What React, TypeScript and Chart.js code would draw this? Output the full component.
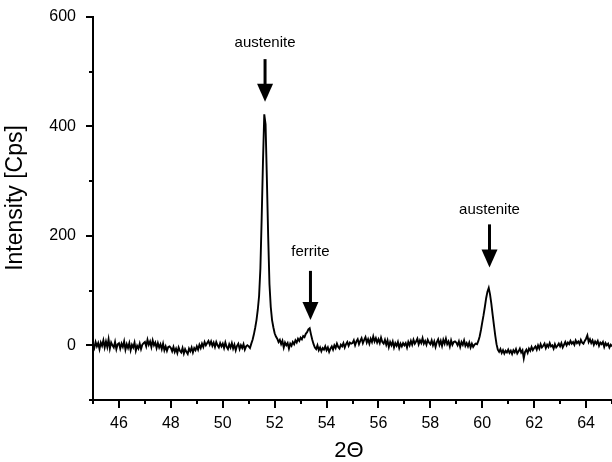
import { useEffect, useRef } from "react";
import { Chart, registerables } from "chart.js";

Chart.register(...registerables);

const FONT = "'Liberation Sans', Arial, Helvetica, sans-serif";

// 2Θ sampling: start and step of the scan
const START = 45;
const STEP = 0.05;

// Intensity [Cps], one row per degree (x.00 ... x.95)
const i45 = [2, -5, 6, -2, 4, -7, 5, -1, 9, -4, 7, -3, 11, -6, 5, 0, -4, 6, -7, 2];
const i46 = [4, -6, 3, -3, 7, -8, 2, -5, 4, -9, 1, -4, 5, -10, -1, -6, 3, -7, 1, 4];
const i47 = [6, -2, 10, 1, 7, -3, 9, 0, 5, -5, 4, -4, 2, -7, 3, -9, -2, -10, -3, -2];
const i48 = [-5, -11, -3, -12, -6, -14, -4, -10, -13, -5, -15, -7, -12, -16, -6, -11, -4, -13, -5, -9];
const i49 = [-2, -8, 1, -5, 3, -3, 6, 0, 4, 8, 1, 7, -1, 5, -3, 6, 0, -4, 4, -2];
const i50 = [3, -5, 5, -3, -7, 2, -4, 4, -6, 1, -9, -1, 3, -7, 0, -5, 2, -8, -2, 0];
const i51 = [-2, -5, 3, 10, 20, 32, 46, 65, 90, 140, 232, 335, 422, 404, 305, 200, 112, 70, 46, 33];
const i52 = [22, 16, 12, 6, 10, 2, 8, -4, 5, 0, 4, -6, 3, -1, 6, 2, 9, 5, 12, 8];
const i53 = [14, 11, 17, 15, 21, 24, 29, 31, 20, 10, 2, -4, -7, 0, -9, -4, -11, -5, -8, -2];
const i54 = [-9, -4, -12, -6, -2, -8, 0, -5, 3, -3, -6, 1, -2, 4, -4, 2, 6, -1, 5, 3];
const i55 = [4, 9, 0, 7, 11, 2, 8, 13, 4, 10, 15, 5, 11, 3, 12, 6, 16, 7, 13, 5];
const i56 = [11, 4, 14, 6, 3, 10, 1, 9, -3, 6, 0, 7, -4, 4, -1, 6, -5, 3, -2, 4];
const i57 = [0, 4, -4, 6, 0, 8, 1, 10, 3, 7, 12, 2, 9, 4, 13, 3, 8, 1, 10, 5];
const i58 = [2, 9, 0, 7, -3, 6, 11, 1, 8, -1, 10, 3, 12, 2, 7, -2, 9, 1, 6, 7];
const i59 = [5, 0, 7, -3, 6, 1, 9, -1, 4, -2, 5, -4, 3, -3, 1, 3, 2, 8, 16, 28];
const i60 = [42, 55, 70, 86, 98, 105, 93, 76, 56, 37, 18, 2, -8, -12, -7, -14, -9, -15, -10, -13];
const i61 = [-8, -14, -10, -16, -9, -13, -7, -15, -11, -6, -13, -9, -24, -12, -8, -14, -6, -10, -3, -9];
const i62 = [-5, -2, -8, 0, -6, 2, -4, -1, 3, -5, 1, -3, 4, -2, 0, -6, 2, -4, -1, 3];
const i63 = [-2, 4, -4, 1, 6, 0, 5, 2, 8, 3, 6, 1, 9, 4, 7, 2, 10, 5, 3, 8];
const i64 = [12, 18, 6, 11, 4, 9, 1, 7, 3, 8, -1, 5, 2, 6, -3, 4, 0, 3, -4, 1];
const i65 = [-2];

const intensity = [
  ...i45, ...i46, ...i47, ...i48, ...i49, ...i50, ...i51, ...i52, ...i53, ...i54,
  ...i55, ...i56, ...i57, ...i58, ...i59, ...i60, ...i61, ...i62, ...i63, ...i64, ...i65,
];

// Axis ticks
const xMajorTicks = [46, 48, 50, 52, 54, 56, 58, 60, 62, 64];
const yMajorTicks = [0, 200, 400, 600];

// Peak annotations (data coordinates)
const peakLabels = ["austenite", "ferrite", "austenite"];
const peakX = [51.63, 53.38, 60.28];
const peakLabelY = [552, 170, 247];
const peakArrowTop = [523, 136, 221];
const peakArrowTip = [445, 46, 142];

const noScalePadding = (s: any) => {
  s.paddingTop = 0;
  s.paddingBottom = 0;
  s.paddingLeft = 0;
  s.paddingRight = 0;
};

const overlayPlugin = {
  id: "overlay",
  afterDraw(chart: any) {
    const { ctx, chartArea, scales } = chart;
    const xs = scales.x;
    const ys = scales.y;
    ctx.save();
    ctx.strokeStyle = "#000";
    ctx.fillStyle = "#000";
    ctx.lineWidth = 2;
    // x ticks
    xs.ticks.forEach((t: any) => {
      const px = Math.round(xs.getPixelForValue(t.value));
      const len = xMajorTicks.includes(t.value) ? 8 : 4;
      ctx.beginPath();
      ctx.moveTo(px, chartArea.bottom);
      ctx.lineTo(px, chartArea.bottom + len);
      ctx.stroke();
    });
    // y ticks
    ys.ticks.forEach((t: any) => {
      const py = Math.round(ys.getPixelForValue(t.value));
      const len = yMajorTicks.includes(t.value) ? 7 : 4;
      ctx.beginPath();
      ctx.moveTo(chartArea.left - len, py);
      ctx.lineTo(chartArea.left, py);
      ctx.stroke();
    });
    // axis titles
    ctx.font = `22px ${FONT}`;
    ctx.textAlign = "center";
    ctx.textBaseline = "middle";
    ctx.fillText("2Θ", 349, 451);
    ctx.save();
    ctx.translate(16, 198);
    ctx.rotate(-Math.PI / 2);
    ctx.font = `23px ${FONT}`;
    ctx.fillText("Intensity [Cps]", 0, 0);
    ctx.restore();
    // annotations
    ctx.font = `15px ${FONT}`;
    peakLabels.forEach((label, i) => {
      const px = xs.getPixelForValue(peakX[i]);
      const ly = ys.getPixelForValue(peakLabelY[i]);
      const top = ys.getPixelForValue(peakArrowTop[i]);
      const tip = ys.getPixelForValue(peakArrowTip[i]);
      ctx.fillText(label, px, ly);
      const headH = 18;
      const headW = 8;
      ctx.lineWidth = 3;
      ctx.beginPath();
      ctx.moveTo(px, top);
      ctx.lineTo(px, tip - headH + 1);
      ctx.stroke();
      ctx.beginPath();
      ctx.moveTo(px - headW, tip - headH);
      ctx.lineTo(px + headW, tip - headH);
      ctx.lineTo(px, tip);
      ctx.closePath();
      ctx.fill();
    });
    ctx.restore();
  },
};

export default function App() {
  const ref = useRef<HTMLCanvasElement>(null);
  useEffect(() => {
    document.body.style.margin = "0";
    const points = intensity.map((y, i) => ({ x: +(START + i * STEP).toFixed(2), y }));
    const chart = new Chart(ref.current!, {
      type: "line",
      data: {
        datasets: [
          {
            data: points,
            borderColor: "#000",
            borderWidth: 1.9,
            pointRadius: 0,
            tension: 0,
            fill: false,
          },
        ],
      },
      options: {
        animation: false,
        responsive: false,
        layout: { padding: { top: 17, left: 0, right: 0, bottom: 0 } },
        plugins: { legend: { display: false }, tooltip: { enabled: false } },
        scales: {
          x: {
            type: "linear",
            min: 45,
            max: 65,
            afterFit: (s: any) => {
              s.height = 62;
              noScalePadding(s);
            },
            grid: { display: false, drawTicks: false },
            border: { display: true, color: "#000", width: 2 },
            ticks: {
              stepSize: 1,
              autoSkip: false,
              maxRotation: 0,
              padding: 14,
              color: "#000",
              font: { family: FONT, size: 16 },
              callback: (v: any) => (xMajorTicks.includes(v) ? String(v) : ""),
            },
          },
          y: {
            type: "linear",
            min: -100,
            max: 600,
            afterFit: (s: any) => {
              s.width = 93;
              noScalePadding(s);
            },
            grid: { display: false, drawTicks: false },
            border: { display: true, color: "#000", width: 2 },
            ticks: {
              stepSize: 100,
              autoSkip: false,
              padding: 17,
              color: "#000",
              font: { family: FONT, size: 16 },
              callback: (v: any) => (yMajorTicks.includes(v) ? String(v) : ""),
            },
          },
        },
      },
      plugins: [overlayPlugin],
    });
    return () => chart.destroy();
  }, []);
  return (
    <div style={{ width: 612, height: 462 }}>
      <canvas ref={ref} width={612} height={462} style={{ display: "block" }} />
    </div>
  );
}
